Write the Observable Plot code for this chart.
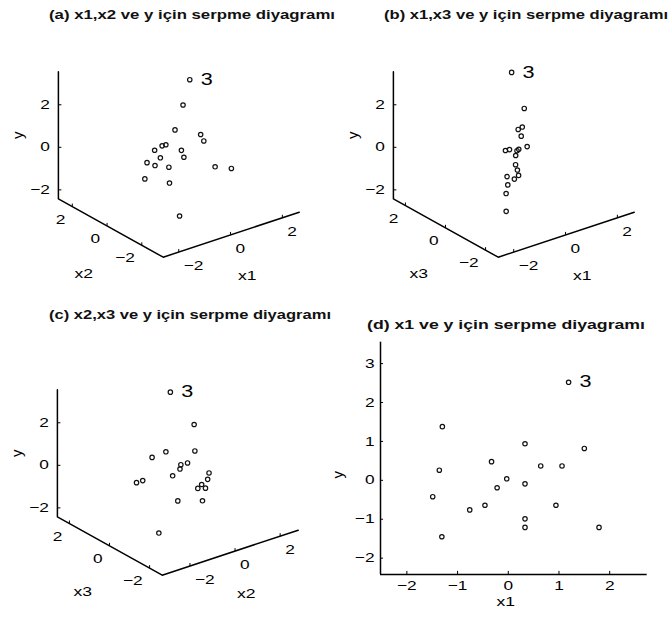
<!DOCTYPE html>
<html><head><meta charset="utf-8">
<script src="https://cdn.jsdelivr.net/npm/d3@7"></script>
<script src="https://cdn.jsdelivr.net/npm/@observablehq/plot@0.6"></script>
<style>
html,body{margin:0;padding:0;background:#fff;}
#root{position:relative;width:671px;height:619px;overflow:hidden;font-family:"Liberation Sans",Arial,Helvetica,sans-serif;color:#000;}
.ttl{position:absolute;font-weight:bold;font-size:12.5px;line-height:16px;white-space:nowrap;transform-origin:0 50%;color:#111;}
.pnl{position:absolute;}
.pnl svg{overflow:visible;display:block;}
</style></head><body>
<div id="root"></div>
<script>
// ---- data (19 observations) ----
const x1 = [-1.30, -1.36, -1.49, -1.31, -0.76, -0.46, -0.33, -0.22, -0.03, 0.33, 0.33, 0.33, 0.33, 0.64, 0.94, 1.06, 1.50, 1.19, 1.79];
const x2 = [-1.23, -0.45, -0.52, -2.25, -0.85, 0.43, 0.00, 0.81, -0.59, -1.20, 0.09, 1.30, 0.81, 0.92, -0.94, 0.07, 1.74, 0.89, -0.61];
const x3 = [-1.31, -1.47, -1.59, -1.36, -0.73, -0.67, -0.26, -0.42, -0.18, 0.16, 0.22, 0.20, 0.14, 0.41, 0.92, 0.90, 1.37, 1.60, 1.60];
const y  = [1.38, 0.26, -0.42, -1.45, -0.76, -0.64, 0.48, -0.19, 0.04, 0.94, -0.09, -0.99, -1.21, 0.37, -0.64, 0.37, 0.82, 2.52, -1.21];
const labels = ["", "", "", "", "", "", "", "", "", "", "", "", "", "", "", "", "", "3", ""];

const ticks3D = [-2, 0, 2];
const ticksX1 = [-2, -1, 0, 1, 2];
const ticksY = [-2, -1, 0, 1, 2, 3];
const titles = [
  "(a) x1,x2 ve y için serpme diyagramı",
  "(b) x1,x3 ve y için serpme diyagramı",
  "(c) x2,x3 ve y için serpme diyagramı",
  "(d) x1 ve y için serpme diyagramı"
];
const dom = {x1: [-2.6, 2.65], x2: [-3.23, 2.8], x3: [-2.63, 2.6], y: [-2.42, 3.55]};
const dom2D = {x: [-2.52, 2.74], y: [-2.42, 3.55]};

// ---- layout ----
const STRETCH = 1.35;
const FONT = "Liberation Sans, Arial, Helvetica, sans-serif";
const fmt = v => v < 0 ? "\u2212" + Math.abs(v) : String(v);
const root = document.getElementById("root");

function place(node, left, top) {
  const d = document.createElement("div");
  d.className = "pnl"; d.style.left = left + "px"; d.style.top = top + "px";
  d.appendChild(node); root.appendChild(d);
  return node;
}
function stretchText(svg) {
  svg.querySelectorAll("text").forEach(t => {
    if ((t.getAttribute("transform") || "").includes("rotate")) return;
    const len = t.getComputedTextLength();
    if (len > 0) { t.setAttribute("textLength", (len * STRETCH).toFixed(2)); t.setAttribute("lengthAdjust", "spacingAndGlyphs"); }
  });
}

const BOX = {W: 335, H: 300, vx: 162.7, vy: 256.7, R: [136, -45], L: [-104.8, -58.4], U: -127};
function panel3D(aKey, bKey, aVals, bVals) {
  const aD = dom[aKey], bD = dom[bKey], yD = dom.y;
  const nrm = (v, d) => (v - d[0]) / (d[1] - d[0]);
  const mid = d => (d[0] + d[1]) / 2;
  const P = (av, bv, yv) => {
    const fa = nrm(av, aD), fb = nrm(bv, bD), fy = nrm(yv, yD);
    return {px: fa * BOX.R[0] + fb * BOX.L[0], py: -(fa * BOX.R[1] + fb * BOX.L[1] + fy * BOX.U)};
  };
  const pts = y.map((yv, i) => ({...P(aVals[i], bVals[i], yv), label: labels[i]}));
  const frame = [P(aD[0], bD[1], yD[1]), P(aD[0], bD[1], yD[0]), P(aD[0], bD[0], yD[0]), P(aD[1], bD[0], yD[0])];
  const yT = ticks3D.map(t => ({...P(aD[0], bD[1], t), text: fmt(t)}));
  const bT = ticks3D.map(t => ({...P(aD[0], t, yD[0]), text: fmt(t)}));
  const aT = ticks3D.map(t => ({...P(t, bD[0], yD[0]), text: fmt(t)}));
  const bName = [{...P(aD[0], mid(bD), yD[0]), text: bKey}];
  const aName = [{...P(mid(aD), bD[0], yD[0]), text: aKey}];
  const yName = [{...P(aD[0], bD[1], mid(yD)), text: "y"}];
  return Plot.plot({
    width: BOX.W, height: BOX.H, margin: 0,
    style: {fontFamily: FONT, fontSize: "12.8px", background: "transparent", color: "#000", overflow: "visible"},
    x: {domain: [-BOX.vx, BOX.W - BOX.vx], range: [0, BOX.W], axis: null},
    y: {domain: [BOX.vy - BOX.H, BOX.vy], range: [BOX.H, 0], axis: null},
    marks: [
      Plot.line(frame, {x: "px", y: "py", stroke: "#000", strokeWidth: 1.5}),
      Plot.link(yT, {x1: "px", y1: "py", x2: d => d.px + 3, y2: "py", stroke: "#000"}),
      Plot.link([...aT, ...bT], {x1: "px", y1: "py", x2: "px", y2: d => d.py + 3, stroke: "#000"}),
      Plot.text(yT, {x: "px", y: "py", text: "text", textAnchor: "end", dx: -8.5}),
      Plot.text(bT, {x: "px", y: "py", text: "text", textAnchor: "end", dx: -7, dy: 13}),
      Plot.text(aT, {x: "px", y: "py", text: "text", textAnchor: "start", dx: 5, dy: 14}),
      Plot.text(bName, {x: "px", y: "py", text: "text", dx: -27, dy: 46, fontSize: 13}),
      Plot.text(aName, {x: "px", y: "py", text: "text", dx: 16, dy: 41, fontSize: 13}),
      Plot.text(yName, {x: "px", y: "py", text: "text", rotate: -90, dx: -40, fontSize: 15}),
      Plot.dot(pts, {x: "px", y: "py", r: 2.2, stroke: "#111", strokeWidth: 1.2, fill: "none"}),
      Plot.text(pts.filter(d => d.label), {x: "px", y: "py", text: "label", textAnchor: "start", dx: 11, fontSize: 16})
    ]
  });
}

function panel2D() {
  const data = y.map((yv, i) => ({x: x1[i], y: yv, label: labels[i]}));
  return Plot.plot({
    width: 336, height: 319, marginLeft: 45, marginRight: 24.3, marginTop: 41.7, marginBottom: 45,
    style: {fontFamily: FONT, fontSize: "12.8px", background: "transparent", color: "#000", overflow: "visible"},
    x: {domain: dom2D.x},
    y: {domain: dom2D.y},
    marks: [
      Plot.axisX({ticks: ticksX1, tickFormat: fmt, tickSize: 0, tickPadding: 6, label: null}),
      Plot.axisY({ticks: ticksY, tickFormat: fmt, tickSize: 0, tickPadding: 6, label: null}),
      Plot.ruleX([dom2D.x[0]], {stroke: "#000", strokeWidth: 1.5}),
      Plot.ruleY([dom2D.y[0]], {stroke: "#000", strokeWidth: 1.5}),
      Plot.ruleX(ticksX1, {x: d => d, y1: dom2D.y[0], y2: dom2D.y[0] + 0.08, stroke: "#000"}),
      Plot.ruleY(ticksY, {y: d => d, x1: dom2D.x[0], x2: dom2D.x[0] + 0.06, stroke: "#000"}),
      Plot.text([{x: -0.05, t: "x1"}], {x: "x", text: "t", frameAnchor: "bottom", dy: 31, fontSize: 13}),
      Plot.text([{y: 0.05, t: "y"}], {y: "y", text: "t", frameAnchor: "left", dx: -42, rotate: -90, fontSize: 15}),
      Plot.dot(data, {x: "x", y: "y", r: 2.2, stroke: "#111", strokeWidth: 1.2, fill: "none"}),
      Plot.text(data.filter(d => d.label), {x: "x", y: "y", text: "label", textAnchor: "start", dx: 11, fontSize: 16})
    ]
  });
}

// panels
const svgs = [];
svgs.push(place(panel3D("x1", "x2", x1, x2), 0, 0));
svgs.push(place(panel3D("x1", "x3", x1, x3), 335, 0));
svgs.push(place(panel3D("x2", "x3", x2, x3), -1, 317.6));
svgs.push(place(panel2D(), 335, 300));
svgs.forEach(stretchText);

// titles
const titlePos = [{left: 49, cy: 15, w: 286}, {left: 384.3, cy: 15, w: 284}, {left: 49.3, cy: 315, w: 282}, {left: 366.7, cy: 325, w: 278}];
titles.forEach((t, i) => {
  const d = document.createElement("div");
  d.className = "ttl"; d.textContent = t;
  d.style.left = titlePos[i].left + "px"; d.style.top = (titlePos[i].cy - 8) + "px";
  root.appendChild(d);
  const nat = d.getBoundingClientRect().width;
  d.style.transform = `scaleX(${(titlePos[i].w / nat).toFixed(4)})`;
});
</script>
</body></html>
